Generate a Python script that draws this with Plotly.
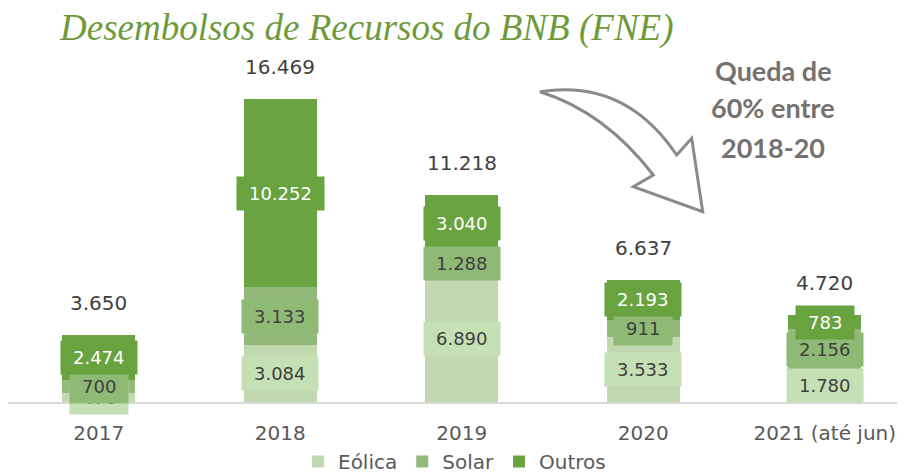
import plotly.graph_objects as go

years = ["2017", "2018", "2019", "2020", "2021 (até jun)"]
eolica = [476, 3084, 6890, 3533, 1780]
solar = [700, 3133, 1288, 911, 2156]
outros = [2474, 10252, 3040, 2193, 783]
totals = [3650, 16469, 11218, 6637, 4720]
note_lines = ["Queda de", "60% entre", "2018-20"]

series = [
    ("Eólica", eolica, "#C1D8B1", "#C6E0B5", "#404040"),
    ("Solar", solar, "#93BA7B", "#8FBA75", "#404040"),
    ("Outros", outros, "#6AA342", "#68A33F", "#FFFFFF"),
]

# page body has an 8px margin: draw in a slightly smaller figure and
# convert reference-pixel positions by that offset
OFF = 8
W, H = 905 - OFF, 474 - OFF
ML, MR, MT, MB = 0, 4, 32, 72
PW, PH = W - ML - MR, H - MT - MB


def fmt(v):
    return f"{v:,}".replace(",", ".")


def px(x, y):
    return ((x - OFF) - ML) / PW, (H - MB - (y - OFF)) / PH


fig = go.Figure()
annotations = []
base = [0] * len(years)
for name, vals, bar_col, box_col, txt_col in series:
    fig.add_trace(go.Bar(
        x=years, y=vals, name=name, marker=dict(color=bar_col, line=dict(width=0)),
        width=0.4, hoverinfo="skip",
    ))
    for i, v in enumerate(vals):
        t = fmt(v)
        nd = sum(c.isdigit() for c in t)
        tw = nd * 11.45 + (len(t) - nd) * 5.7 + 12
        annotations.append(dict(
            x=i, y=base[i] + v / 2, xref="x", yref="y", text=t,
            showarrow=False, bgcolor=box_col, borderpad=6, width=tw,
            xanchor="center", yanchor="middle",
            font=dict(family="DejaVu Sans", size=18, color=txt_col),
        ))
        base[i] += v

for i, t in enumerate(totals):
    annotations.append(dict(
        x=i, y=t, xref="x", yref="y", text=fmt(t), showarrow=False,
        xanchor="center", yanchor="middle",
        yshift=32, font=dict(family="DejaVu Sans", size=20, color="#404040"),
    ))

for line, ly in zip(note_lines, [70, 108, 147]):
    qx, qy = px(773, ly)
    annotations.append(dict(
        x=qx, y=qy, xref="paper", yref="paper", xanchor="center", yanchor="middle",
        text=f"<b>{line}</b>", showarrow=False,
        font=dict(family="Lato", size=27, color="#767171"),
    ))
tx, ty = px(366, 28)
annotations.append(dict(
    x=tx, y=ty, xref="paper", yref="paper", xanchor="center", yanchor="middle",
    text="Desembolsos de Recursos do BNB (FNE)", showarrow=False,
    font=dict(family="Liberation Serif", size=37, color="#6E9A3C", style="italic"),
))

pts = [(540, 91.7), (676.7, 155), (691.7, 138.3), (702.7, 211.7), (633.3, 186.7), (653.3, 175)]
ctrl1 = (625, 78)
ctrl2 = (605, 112)
P = [px(*p) for p in pts]
C1 = px(*ctrl1)
C2 = px(*ctrl2)
path = (f"M {P[0][0]},{P[0][1]} Q {C1[0]},{C1[1]} {P[1][0]},{P[1][1]} "
        f"L {P[2][0]},{P[2][1]} L {P[3][0]},{P[3][1]} L {P[4][0]},{P[4][1]} "
        f"L {P[5][0]},{P[5][1]} Q {C2[0]},{C2[1]} {P[0][0]},{P[0][1]} Z")

fig.update_layout(
    barmode="stack", width=W, height=H,
    margin=dict(l=ML, r=MR, t=MT, b=MB, autoexpand=False),
    plot_bgcolor="white", paper_bgcolor="white",
    separators=",.",
    xaxis=dict(type="category", range=[-0.5, 4.42], showgrid=False, showline=True,
               linecolor="#D9D9D9", linewidth=2, ticks="", automargin=False,
               tickfont=dict(family="DejaVu Sans", size=20, color="#595959"),
               ticklabelstandoff=12),
    yaxis=dict(range=[0, 19650], visible=False, showgrid=False, automargin=False),
    showlegend=True,
    legend=dict(orientation="h", x=0.5, xanchor="center", y=1 - 434 / H,
                yref="container", yanchor="top", bgcolor="rgba(0,0,0,0)",
                font=dict(family="DejaVu Sans", size=20, color="#595959"),
                itemwidth=30, traceorder="normal"),
    annotations=annotations,
    shapes=[dict(type="path", path=path, xref="paper", yref="paper",
                 line=dict(color="#8A8A8A", width=3), fillcolor="rgba(0,0,0,0)")],
)

fig.write_html("out.html")
